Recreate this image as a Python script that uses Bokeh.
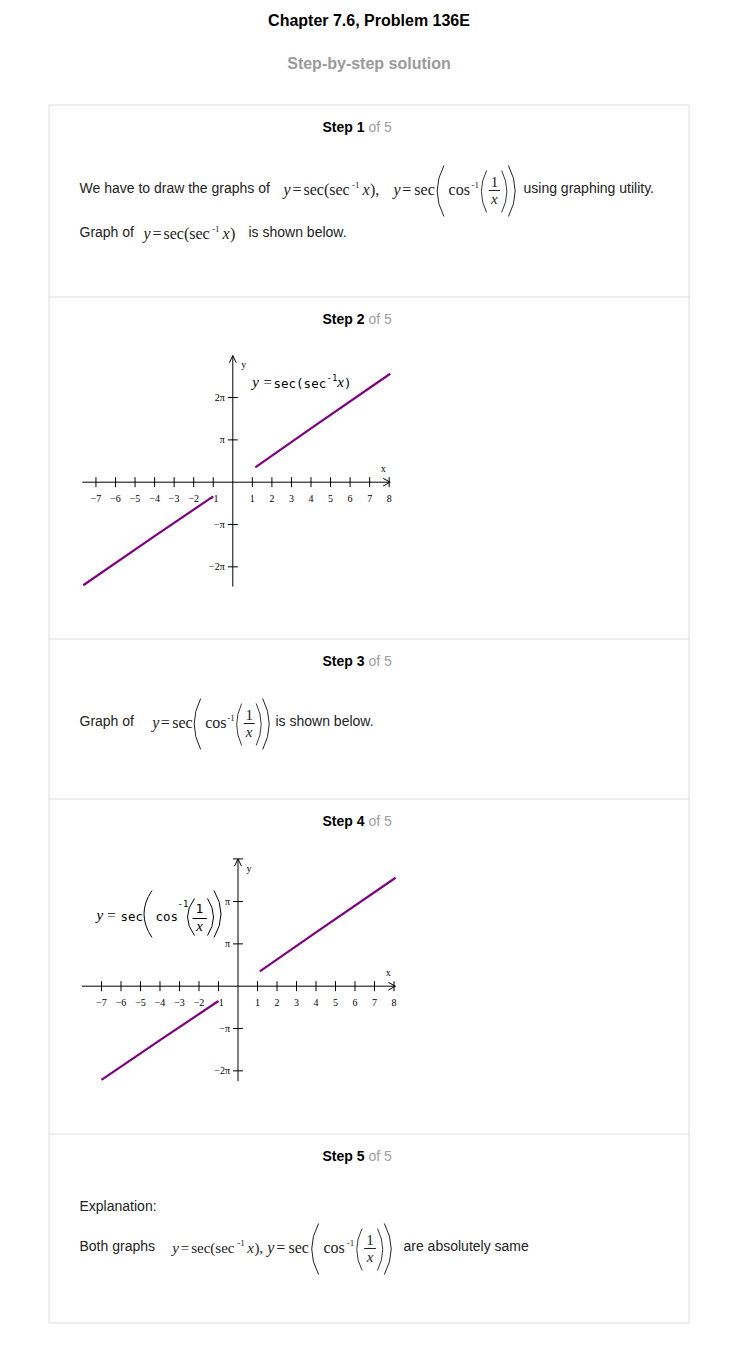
from bokeh.plotting import figure
from bokeh.models import Range1d
from bokeh.core.properties import value
from bokeh.embed import file_html
from bokeh.resources import INLINE

# ---------------- data ----------------
# Graph 1: y = sec(sec^-1 x)
g1_left_x = [-7.65, -4.0, -1.0]
g1_left_y = [-7.65, -4.0, -1.05]
g1_right_x = [1.15, 4.0, 8.05]
g1_right_y = [1.10, 4.0, 8.05]
# Graph 2: y = sec(cos^-1(1/x))
g2_left_x = [-7.0, -4.0, -1.0]
g2_left_y = [-6.95, -4.0, -1.10]
g2_right_x = [1.12, 4.0, 8.08]
g2_right_y = [1.10, 4.0, 8.05]

x_ticks = [-7, -6, -5, -4, -3, -2, -1, 1, 2, 3, 4, 5, 6, 7, 8]
x_tick_labels = ["\u22127", "\u22126", "\u22125", "\u22124", "\u22123", "\u22122", "\u22121",
                 "1", "2", "3", "4", "5", "6", "7", "8"]
y_ticks = [6.2832, 3.1416, -3.1416, -6.2832]
g1_y_tick_labels = ["2\u03c0", "\u03c0", "\u2212\u03c0", "\u22122\u03c0"]
g2_y_tick_labels = ["\u03c0", "\u03c0", "\u2212\u03c0", "\u22122\u03c0"]

title = "Chapter 7.6, Problem 136E"
subtitle = "Step-by-step solution"
steps = ["Step 1", "Step 2", "Step 3", "Step 4", "Step 5"]

# ---------------- page figure (page pixel coordinates) ----------------
W, H = 736, 1344
p = figure(width=W, height=H, output_backend="svg", toolbar_location=None,
           x_range=Range1d(0, W), y_range=Range1d(H, 0),
           x_axis_location=None, y_axis_location=None, min_border=0)
p.grid.visible = False
p.outline_line_color = None
p.background_fill_color = "white"
p.border_fill_color = "white"

SANS = "Liberation Sans"
SERIF = "Liberation Serif"
MONO = "DejaVu Sans Mono"
INK = "#222222"


def T(x, y, s, size=14, color=INK, font=SANS, style="normal", align="left",
      baseline="alphabetic", xr="default", yr="default", xo=0, yo=0):
    # positions are given as alphabetic baselines; draw with a middle baseline
    if baseline == "alphabetic":
        y = y - 0.35 * size
        baseline = "middle"
    p.text(x=[x], y=[y], text=[s], text_font=value(font), text_font_size=f"{size}px",
           text_font_style=style, text_color=color, text_align=align,
           text_baseline=baseline, x_range_name=xr, y_range_name=yr,
           x_offset=xo, y_offset=yo)


def paren(xl, xr, top, bot, left=True, lw=1.0, color=INK):
    mid = (top + bot) / 2
    if left:
        p.quadratic(x0=[xr], y0=[top], x1=[xr], y1=[bot], cx=[2 * xl - xr], cy=[mid],
                    line_color=color, line_width=lw)
    else:
        p.quadratic(x0=[xl], y0=[top], x1=[xl], y1=[bot], cx=[2 * xr - xl], cy=[mid],
                    line_color=color, line_width=lw)


def eqA(x0, base, s=1.0, comma=False, fs=16):
    T(x0, base, "y", fs, font=SERIF, style="italic")
    T(x0 + 9 * s, base, "=", fs, font=SERIF)
    T(x0 + 20 * s, base, "sec(sec", fs, font=SERIF)
    T(x0 + 68.5 * s, base - 7, "-1", 9, font=SERIF)
    T(x0 + 79 * s, base, "x", fs, font=SERIF, style="italic")
    T(x0 + 86.5 * s, base, ")," if comma else ")", fs, font=SERIF)


def eqB(x0, base, s=1.0, fs=16):
    bar = base - 5
    T(x0, base, "y", fs, font=SERIF, style="italic")
    T(x0 + 8.5 * s, base, "=", fs, font=SERIF)
    T(x0 + 20 * s, base, "sec", fs, font=SERIF)
    paren(x0 + 42 * s, x0 + 48.5 * s, bar - 25, bar + 26, left=True)
    T(x0 + 53 * s, base, "cos", fs, font=SERIF)
    T(x0 + 75 * s, base - 7, "-1", 9, font=SERIF)
    paren(x0 + 84.5 * s, x0 + 89.5 * s, bar - 20, bar + 22, left=True, lw=0.9)
    p.segment(x0=[x0 + 91.5 * s], x1=[x0 + 102.5 * s], y0=[bar], y1=[bar],
              line_color=INK, line_width=1)
    T(x0 + 97 * s, bar - 3, "1", 15, font=SERIF, align="center")
    T(x0 + 97 * s, bar + 13.5, "x", 15, font=SERIF, style="italic", align="center")
    paren(x0 + 104 * s, x0 + 109 * s, bar - 20, bar + 22, left=False, lw=0.9)
    paren(x0 + 110.5 * s, x0 + 117 * s, bar - 25, bar + 26, left=False)


# ---------------- header ----------------
T(368.5, 25.5, title, 16, color="black", style="bold", align="center")
T(368.5, 68.5, subtitle, 16, color="#9a9a9a", style="bold", align="center")

# outer box and dividers
BOX = "#dddddd"
p.quad(left=[48.5], right=[688.5], top=[104.5], bottom=[1322.5], fill_color=None,
       line_color=BOX, line_width=1)
p.segment(x0=[48.5] * 4, x1=[688.5] * 4, y0=[296.5, 638.5, 798.5, 1133.5],
          y1=[296.5, 638.5, 798.5, 1133.5], line_color=BOX, line_width=1)

for lbl, yb in zip(steps, [131, 323, 665, 825, 1160]):
    T(322, yb, lbl, 14, color="black", style="bold")
    T(368, yb, "of 5", 14, color="#a0a0a0")

# ---------------- step 1 ----------------
T(79, 192, "We have to draw the graphs of", 14)
eqA(283, 195, comma=True)
eqB(393, 195, s=1.04)
T(523, 192, "using graphing utility.", 14)
T(79, 236, "Graph of", 14)
eqA(143, 239)
T(248, 236, "is shown below.", 14)

# ---------------- step 3 ----------------
T(79, 725, "Graph of", 14)
eqB(151.7, 728)
T(275, 725, "is shown below.", 14)

# ---------------- step 5 ----------------
T(79, 1210, "Explanation:", 14)
T(79, 1250, "Both graphs", 14)
eqA(171.7, 1253, s=0.95, comma=True, fs=15)
eqB(266.7, 1253, s=1.06)
T(403, 1250, "are absolutely same", 14)

# ---------------- graphs ----------------
def add_ranges(name, ox, oy, sx, sy):
    p.extra_x_ranges[name + "x"] = Range1d((0 - ox) / sx, (W - ox) / sx)
    p.extra_y_ranges[name + "y"] = Range1d((oy - H) / sy, (oy - 0) / sy)


add_ranges("g1", 232.3, 481.7, 19.55, 13.47)
add_ranges("g2", 237.5, 985.7, 19.5, 13.47)

PURPLE = "#800080"


def draw_graph(name, xa, ya, ylabels, lx, ly, rx, ry, top_bar=False):
    xr, yr = name + "x", name + "y"
    kw = dict(x_range_name=xr, y_range_name=yr)
    # axes
    p.segment(x0=[xa[0]], x1=[xa[1]], y0=[0], y1=[0], line_color="black", line_width=1, **kw)
    p.segment(x0=[0], x1=[0], y0=[ya[0]], y1=[ya[1]], line_color="black", line_width=1, **kw)
    # arrow heads
    p.ray(x=[xa[1], xa[1]], y=[0, 0], length=8, length_units="screen",
          angle=[3.1416 - 0.5, 3.1416 + 0.5], line_color="black", line_width=1, **kw)
    p.ray(x=[0, 0], y=[ya[1], ya[1]], length=8, length_units="screen",
          angle=[-1.5708 - 0.45, -1.5708 + 0.45], line_color="black", line_width=1, **kw)
    if top_bar:
        p.scatter(x=[0], y=[ya[1]], marker="dash", size=10, line_color="black", line_width=1, **kw)
    # ticks
    p.scatter(x=x_ticks, y=[0] * len(x_ticks), marker="dash", angle=1.5708, size=10,
              line_color="black", line_width=1, **kw)
    p.scatter(x=[0] * len(y_ticks), y=y_ticks, marker="dash", size=10,
              line_color="black", line_width=1, **kw)
    # tick labels
    p.text(x=x_ticks, y=[0] * len(x_ticks), text=x_tick_labels, text_font=value(SERIF),
           text_font_size="10px", text_align="center", text_baseline="middle",
           y_offset=16, text_color="black", **kw)
    p.text(x=[0] * len(y_ticks), y=y_ticks, text=ylabels, text_font=value(SERIF),
           text_font_size="10px", text_align="right", text_baseline="middle",
           x_offset=-8, text_color="black", **kw)
    # axis names
    T(7.7, 0, "x", 10, color="black", font=SERIF, align="center", baseline="middle",
      xr=xr, yr=yr, yo=-14)
    T(0, 8.73, "y", 10, color="black", font=SERIF, align="center", baseline="middle",
      xr=xr, yr=yr, xo=11)
    # curves
    p.line(x=lx, y=ly, line_color=PURPLE, line_width=2.2, **kw)
    p.line(x=rx, y=ry, line_color=PURPLE, line_width=2.2, **kw)


draw_graph("g1", (-7.7, 8.05), (-7.75, 9.4), g1_y_tick_labels,
           g1_left_x, g1_left_y, g1_right_x, g1_right_y)
draw_graph("g2", (-8.0, 8.07), (-7.05, 9.45), g2_y_tick_labels,
           g2_left_x, g2_left_y, g2_right_x, g2_right_y, top_bar=True)

# graph 1 equation label
T(251.7, 387, "y", 15, color="black", font=SERIF, style="italic")
T(263, 387, "=", 15, color="black", font=SERIF)
T(273, 387, "sec(sec", 12.5, color="black", font=MONO)
T(326, 380, "-1", 9, color="black", font=MONO)
T(336.7, 387, "x", 15, color="black", font=SERIF, style="italic")
T(343.5, 387, ")", 12.5, color="black", font=MONO)

# graph 2 equation label
T(96, 920, "y", 15, color="black", font=SERIF, style="italic")
T(106.7, 920, "=", 15, color="black", font=SERIF)
T(120, 920, "sec", 12.5, color="black", font=MONO)
paren(143.5, 151.5, 890, 937, left=True, color="black")
T(155, 920, "cos", 12.5, color="black", font=MONO)
T(177, 906, "-1", 9, color="black", font=MONO)
paren(187, 194, 898, 935, left=True, color="black")
T(199, 913, "1", 13, color="black", font=MONO, align="center")
p.segment(x0=[192], x1=[206.5], y0=[918], y1=[918], line_color="black", line_width=1)
T(199, 931, "x", 15, color="black", font=SERIF, style="italic", align="center")
paren(207, 213, 898, 935, left=False, color="black")
paren(213.5, 220.5, 890, 937, left=False, color="black")

open("out.html", "w").write(file_html(p, INLINE))
